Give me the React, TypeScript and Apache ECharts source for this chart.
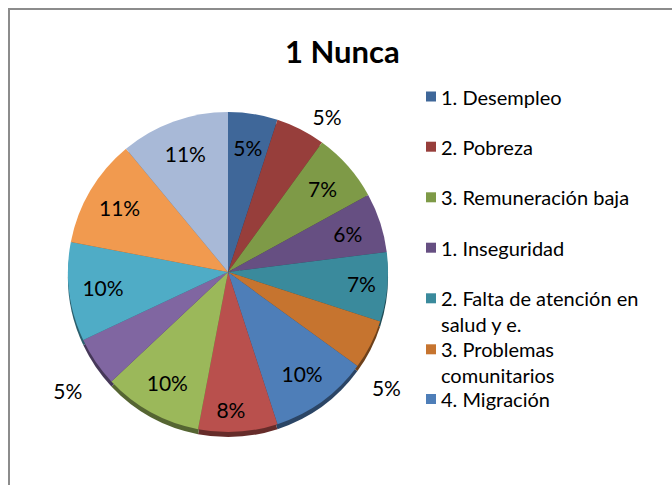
import React, { useEffect, useRef } from "react";
import * as echarts from "echarts";

// ---- data ----
const categories: string[] = [
  "1. Desempleo",
  "2. Pobreza",
  "3. Remuneración baja",
  "1. Inseguridad",
  "2. Falta de atención en salud y e.",
  "3. Problemas comunitarios",
  "4. Migración",
  "Categoría 8",
  "Categoría 9",
  "Categoría 10",
  "Categoría 11",
  "Categoría 12",
  "Categoría 13",
];
const values: number[] = [5, 5, 7, 6, 7, 5, 10, 8, 10, 5, 10, 11, 11];
const legendItems: string[] = categories.slice(0, 7);
const outsideLabelIdx: number[] = [1, 5, 9];

const sliceColors: string[] = [
  "#3F6799",
  "#973E3B",
  "#7E9A47",
  "#664F82",
  "#3A8A9C",
  "#C6742F",
  "#4E7EB8",
  "#B9504D",
  "#9BB85A",
  "#8066A1",
  "#4FACC6",
  "#F19A4F",
  "#A8B9D7",
];

const FONT = "Lato, 'Open Sans', sans-serif";

function darken(hex: string, f: number): string {
  const n = parseInt(hex.slice(1), 16);
  const r = Math.round(((n >> 16) & 255) * f);
  const g = Math.round(((n >> 8) & 255) * f);
  const b = Math.round((n & 255) * f);
  return `rgb(${r},${g},${b})`;
}

// legend names broken over two lines (a leading empty line keeps the
// first text line level with the legend square)
const wrappedNames: Record<string, string> = {
  "2. Falta de atención en salud y e.": "\n2. Falta de atención en\nsalud y e.",
  "3. Problemas comunitarios": "\n3. Problemas\ncomunitarios",
};

export default function App() {
  const ref = useRef<HTMLDivElement>(null);

  useEffect(() => {
    if (!ref.current) return;
    const chart = echarts.init(ref.current, undefined, { renderer: "svg" });

    const center: [number, number] = [228, 272];
    const R = 160;
    const lineH = 26;
    const legendCenters = [96.5, 146.7, 197.3, 247.7, 298.3, 349.3, 399];

    const legends = legendItems.map((name, i) => {
      const wrapped = wrappedNames[name] !== undefined;
      const cy = legendCenters[i];
      return {
        show: true,
        left: 426,
        top: wrapped ? cy - lineH * 1.5 : cy - lineH / 2,
        padding: 0,
        orient: "vertical",
        itemWidth: 10,
        itemHeight: 10,
        icon: "rect",
        selectedMode: false,
        data: [name],
        formatter: (n: string) => wrappedNames[n] ?? n,
        textStyle: {
          fontFamily: FONT,
          fontSize: 20,
          color: "#000",
          lineHeight: lineH,
        },
      };
    });

    const pct = (p: any) => `${Math.round(p.percent)}%`;

    const option: any = {
      animation: false,
      backgroundColor: "#fff",
      title: {
        text: "1 Nunca",
        left: 285,
        top: 35,
        padding: 0,
        textStyle: { fontFamily: FONT, fontWeight: "bold", fontSize: 31, color: "#000" },
      },
      legend: legends,
      graphic: [
        {
          type: "rect",
          shape: { x: 9, y: 9, width: 700, height: 500 },
          style: { fill: "none", stroke: "#8C8C8C", lineWidth: 2 },
          silent: true,
          z: 0,
        },
      ],
      series: [
        {
          name: "main",
          type: "pie",
          z: 2,
          center,
          radius: R,
          startAngle: 90,
          clockwise: true,
          avoidLabelOverlap: false,
          emphasis: { disabled: true },
          data: categories.map((name, i) => ({
            name,
            value: values[i],
            itemStyle: { color: sliceColors[i] },
            label: { show: outsideLabelIdx.includes(i) },
          })),
          label: {
            position: "outside",
            formatter: pct,
            fontFamily: FONT,
            fontSize: 21,
            color: "#000",
            distanceToLabelLine: 5,
          },
          labelLine: { show: false, length: 15, length2: 0 },
          labelLayout: (p: any) => {
            if (p.dataIndex === 5) return { dx: -17, dy: 36 };
            if (p.dataIndex === 9) return { dx: 4, dy: 20 };
            return {};
          },
          itemStyle: { borderWidth: 0 },
        },
        {
          name: "labels",
          type: "pie",
          z: 3,
          silent: true,
          center,
          radius: [86, R],
          startAngle: 90,
          clockwise: true,
          avoidLabelOverlap: false,
          legendHoverLink: false,
          emphasis: { disabled: true },
          data: categories.map((name, i) => ({
            name,
            value: values[i],
            itemStyle: { color: "rgba(0,0,0,0)" },
            label: { show: !outsideLabelIdx.includes(i) },
          })),
          label: {
            position: "inside",
            formatter: pct,
            fontFamily: FONT,
            fontSize: 21,
            color: "#000",
          },
          labelLayout: (p: any) => {
            if (p.dataIndex === 4) return { dx: 8 };
            if (p.dataIndex === 7) return { dx: -5, dy: 12 };
            return {};
          },
          labelLine: { show: false },
          itemStyle: { borderWidth: 0 },
        },
        {
          name: "edge",
          type: "pie",
          z: 1,
          silent: true,
          center: [center[0], center[1] + 5],
          radius: R,
          startAngle: 90,
          clockwise: true,
          legendHoverLink: false,
          emphasis: { disabled: true },
          data: categories.map((name, i) => ({
            name,
            value: values[i],
            itemStyle: { color: darken(sliceColors[i], 0.55) },
          })),
          label: { show: false },
          labelLine: { show: false },
          itemStyle: { borderWidth: 0 },
        },
      ],
    };

    chart.setOption(option);
    return () => chart.dispose();
  }, []);

  return (
    <div
      ref={ref}
      style={{ position: "fixed", left: 0, top: 0, width: 672, height: 485 }}
    />
  );
}
